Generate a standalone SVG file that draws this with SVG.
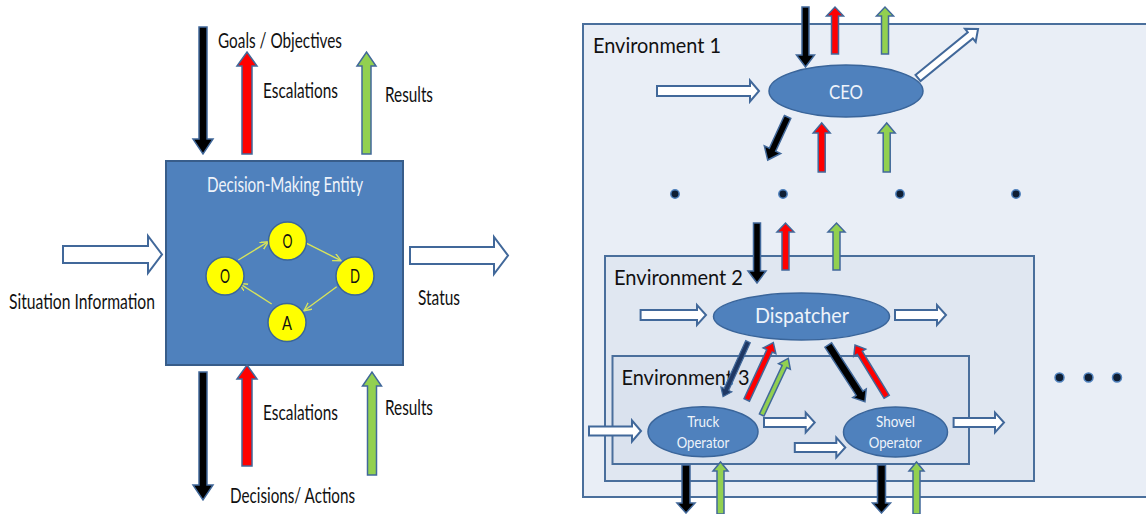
<svg xmlns="http://www.w3.org/2000/svg" width="1146" height="514" viewBox="0 0 1146 514">
<defs>
<style>
text{font-family:Lato,"Liberation Sans",sans-serif}
.lbl{font-size:21px;fill:#111}
.wl{fill:#eef3fa}
.env{stroke:#4a6f9c;stroke-width:2}
.ell{fill:#4f81bd;stroke:#3a659a;stroke-width:1.5}
.blk{fill:#000;stroke:#41689a;stroke-width:1.5}
.red{fill:#ff0000;stroke:#41689a;stroke-width:1.5}
.grn{fill:#92d050;stroke:#41689a;stroke-width:1.5}
.nav{fill:#1f3864;stroke:#41689a;stroke-width:1.2}
.wht{fill:#fff;stroke:#41689a;stroke-width:2}
.yl{stroke:#d8e45a;stroke-width:1.4;fill:none;marker-end:url(#yh)}
.dot{fill:#0f1e33;stroke:#4f81bd;stroke-width:1.5}
.cir{fill:#ffff00;stroke:#3a659a;stroke-width:1.5}
.cl{font-size:20px;fill:#111}
</style>
<marker id="yh" markerWidth="10" markerHeight="10" refX="8" refY="4" orient="auto" markerUnits="userSpaceOnUse">
<path d="M0,0 L8,4 L0,8" fill="none" stroke="#d8e45a" stroke-width="1.4"/>
</marker>
</defs>
<rect width="1146" height="514" fill="#fff"/>

<!-- Left diagram -->
<g id="dme">
<rect x="166" y="161" width="237" height="204" fill="#4f81bd" stroke="#385d8a" stroke-width="2"/>
<text class="wl" x="207" y="192" font-size="22" textLength="156" lengthAdjust="spacingAndGlyphs">Decision-Making Entity</text>
</g>

<!-- Right diagram environments -->
<g id="env1">
<rect class="env" x="583" y="24" width="570" height="473" fill="#e9eef6"/>
<text class="lbl" x="593" y="53" textLength="128" lengthAdjust="spacingAndGlyphs">Environment 1</text>
</g>
<g id="env2">
<rect class="env" x="605" y="256" width="429" height="225" fill="#e0e7f1"/>
<text class="lbl" x="614" y="285" textLength="129" lengthAdjust="spacingAndGlyphs">Environment 2</text>
</g>
<g id="env3">
<rect class="env" x="612.5" y="356" width="356.5" height="108" fill="#dae2ee"/>
<text class="lbl" x="621.5" y="385" textLength="128" lengthAdjust="spacingAndGlyphs">Environment 3</text>
</g>

<g id="dots">
<circle class="dot" cx="675" cy="194" r="4.2"/>
<circle class="dot" cx="783" cy="194" r="4.2"/>
<circle class="dot" cx="900" cy="194" r="4.2"/>
<circle class="dot" cx="1016" cy="194" r="4.2"/>
<circle class="dot" cx="1059.5" cy="377.5" r="4.5"/>
<circle class="dot" cx="1088.5" cy="377.5" r="4.5"/>
<circle class="dot" cx="1117" cy="377.5" r="4.5"/>
</g>

<g id="ceo">
<ellipse class="ell" cx="846" cy="91" rx="77" ry="26"/>
<text class="wl" x="829" y="99" font-size="20" textLength="34" lengthAdjust="spacingAndGlyphs">CEO</text>
</g>
<g id="dispatcher">
<ellipse class="ell" cx="801.5" cy="316.5" rx="88" ry="23.5"/>
<text class="wl" x="755" y="323" font-size="22" textLength="94" lengthAdjust="spacingAndGlyphs">Dispatcher</text>
</g>
<g id="truck">
<ellipse class="ell" cx="703" cy="431.7" rx="55" ry="25"/>
<text class="wl" x="687.3" y="426.7" font-size="15.5" textLength="32" lengthAdjust="spacingAndGlyphs">Truck</text>
<text class="wl" x="676.7" y="447.7" font-size="15.5" textLength="52.6" lengthAdjust="spacingAndGlyphs">Operator</text>
</g>
<g id="shovel">
<ellipse class="ell" cx="895.5" cy="432" rx="52" ry="25"/>
<text class="wl" x="876" y="426.7" font-size="15.5" textLength="39" lengthAdjust="spacingAndGlyphs">Shovel</text>
<text class="wl" x="868.7" y="447.7" font-size="15.5" textLength="53" lengthAdjust="spacingAndGlyphs">Operator</text>
</g>

<g id="connectors">
<!-- OODA loop -->
<line class="yl" x1="238.3" y1="260" x2="268.3" y2="241.7"/>
<line class="yl" x1="306.7" y1="243.3" x2="341" y2="260.7"/>
<line class="yl" x1="336.7" y1="286.7" x2="304" y2="310.7"/>
<line class="yl" x1="271.7" y1="304" x2="239.3" y2="283.3"/>

<!-- left vertical arrows -->
<polygon class="blk" transform="translate(203,27) rotate(90)" points="0,-4 112,-4 112,-10 127,0 112,10 112,4 0,4"/>
<polygon class="red" transform="translate(247,154) rotate(-90)" points="0,-5 88,-5 88,-10 102,0 88,10 88,5 0,5"/>
<polygon class="grn" transform="translate(366.5,154) rotate(-90)" points="0,-4.5 88,-4.5 88,-9.5 102,0 88,9.5 88,4.5 0,4.5"/>
<polygon class="blk" transform="translate(203,372) rotate(90)" points="0,-4 113,-4 113,-10 128,0 113,10 113,4 0,4"/>
<polygon class="red" transform="translate(247,466) rotate(-90)" points="0,-5 87,-5 87,-10 101,0 87,10 87,5 0,5"/>
<polygon class="grn" transform="translate(372,475) rotate(-90)" points="0,-4.5 89,-4.5 89,-9.5 103,0 89,9.5 89,4.5 0,4.5"/>
<polygon class="wht" transform="translate(63,254.5)" points="0,-8.5 85,-8.5 85,-18.5 99,0 85,18.5 85,8.5 0,8.5"/>
<polygon class="wht" transform="translate(410,255.5)" points="0,-8.5 84,-8.5 84,-18.5 98,0 84,18.5 84,8.5 0,8.5"/>

<!-- CEO arrows -->
<polygon class="blk" transform="translate(805.5,7) rotate(90)" points="0,-3.5 48,-3.5 48,-9 60,0 48,9 48,3.5 0,3.5"/>
<polygon class="red" transform="translate(835,54) rotate(-90)" points="0,-3.5 38,-3.5 38,-8.5 47,0 38,8.5 38,3.5 0,3.5"/>
<polygon class="grn" transform="translate(885,54) rotate(-90)" points="0,-3.5 38,-3.5 38,-8.5 47,0 38,8.5 38,3.5 0,3.5"/>
<polygon class="blk" transform="translate(787.6,117) rotate(114.8)" points="0,-3.5 36,-3.5 36,-9 47.4,0 36,9 36,3.5 0,3.5"/>
<polygon class="red" transform="translate(821.7,172) rotate(-90)" points="0,-3.5 39,-3.5 39,-8.5 49,0 39,8.5 39,3.5 0,3.5"/>
<polygon class="grn" transform="translate(886.7,172) rotate(-90)" points="0,-3.5 39,-3.5 39,-8.5 49,0 39,8.5 39,3.5 0,3.5"/>
<polygon class="wht" transform="translate(657,91)" points="0,-5 93,-5 93,-10.5 102,0 93,10.5 93,5 0,5"/>
<polygon class="wht" transform="translate(918,78) rotate(-39.2)" points="0,-4 67.5,-4 67.5,-8.5 77.5,0 67.5,8.5 67.5,4 0,4"/>

<!-- Env2 entry arrows -->
<polygon class="blk" transform="translate(757,223) rotate(90)" points="0,-3.5 48,-3.5 48,-9 60,0 48,9 48,3.5 0,3.5"/>
<polygon class="red" transform="translate(785.5,270) rotate(-90)" points="0,-3.5 38,-3.5 38,-8.5 47,0 38,8.5 38,3.5 0,3.5"/>
<polygon class="grn" transform="translate(836.5,270) rotate(-90)" points="0,-3.5 38,-3.5 38,-8.5 47,0 38,8.5 38,3.5 0,3.5"/>

<!-- Dispatcher arrows -->
<polygon class="wht" transform="translate(640.6,315)" points="0,-5 56.4,-5 56.4,-10 65.4,0 56.4,10 56.4,5 0,5"/>
<polygon class="wht" transform="translate(895,315)" points="0,-5 42,-5 42,-10 51,0 42,10 42,5 0,5"/>
<polygon class="nav" transform="translate(748,341.7) rotate(114.4)" points="0,-2.5 52.4,-2.5 52.4,-6 60.4,0 52.4,6 52.4,2.5 0,2.5"/>
<polygon class="red" transform="translate(746.7,400) rotate(-65.1)" points="0,-3 54.2,-3 54.2,-7 63.2,0 54.2,7 54.2,3 0,3"/>
<polygon class="grn" transform="translate(761.7,415) rotate(-64.9)" points="0,-2.5 53.6,-2.5 53.6,-6.5 62.6,0 53.6,6.5 53.6,2.5 0,2.5"/>
<polygon class="blk" transform="translate(828.3,345) rotate(57.1)" points="0,-4 57.5,-4 57.5,-8 67.5,0 57.5,8 57.5,4 0,4"/>
<polygon class="red" transform="translate(886.7,396.7) rotate(-121.5)" points="0,-3 51.6,-3 51.6,-7 60.6,0 51.6,7 51.6,3 0,3"/>

<!-- Operator arrows -->
<polygon class="wht" transform="translate(589,431)" points="0,-4.5 43,-4.5 43,-10.5 52,0 43,10.5 43,4.5 0,4.5"/>
<polygon class="wht" transform="translate(764,422.5)" points="0,-4.5 41.7,-4.5 41.7,-10 50.7,0 41.7,10 41.7,4.5 0,4.5"/>
<polygon class="wht" transform="translate(794.8,447.5)" points="0,-4.5 41.5,-4.5 41.5,-10 50.5,0 41.5,10 41.5,4.5 0,4.5"/>
<polygon class="wht" transform="translate(953.6,422.5)" points="0,-4.5 41.4,-4.5 41.4,-10 50.4,0 41.4,10 41.4,4.5 0,4.5"/>
<polygon class="blk" transform="translate(686,465) rotate(90)" points="0,-4 38,-4 38,-9 48,0 38,9 38,4 0,4"/>
<polygon class="grn" transform="translate(720.5,514) rotate(-90)" points="0,-3.5 43,-3.5 43,-7.5 52,0 43,7.5 43,3.5 0,3.5"/>
<polygon class="blk" transform="translate(881.5,465) rotate(90)" points="0,-4 38,-4 38,-9 48,0 38,9 38,4 0,4"/>
<polygon class="grn" transform="translate(916.5,514) rotate(-90)" points="0,-3.5 43,-3.5 43,-7.5 52,0 43,7.5 43,3.5 0,3.5"/>
</g>

<!-- OODA circles -->
<g id="observe">
<circle class="cir" cx="225" cy="276" r="19"/>
<text class="cl" x="220" y="283" textLength="10" lengthAdjust="spacingAndGlyphs">O</text>
</g>
<g id="orient">
<circle class="cir" cx="287.5" cy="241" r="19"/>
<text class="cl" x="282.5" y="248" textLength="10" lengthAdjust="spacingAndGlyphs">O</text>
</g>
<g id="decide">
<circle class="cir" cx="355" cy="276" r="19"/>
<text class="cl" x="350" y="283" textLength="10" lengthAdjust="spacingAndGlyphs">D</text>
</g>
<g id="act">
<circle class="cir" cx="287" cy="322.5" r="19"/>
<text class="cl" x="282" y="329.5" textLength="10" lengthAdjust="spacingAndGlyphs">A</text>
</g>

<!-- left labels -->
<g id="labels">
<text class="lbl" x="218" y="48" textLength="124" lengthAdjust="spacingAndGlyphs">Goals / Objectives</text>
<text class="lbl" x="263" y="98" textLength="75" lengthAdjust="spacingAndGlyphs">Escalations</text>
<text class="lbl" x="385" y="102" textLength="48" lengthAdjust="spacingAndGlyphs">Results</text>
<text class="lbl" x="9" y="309" textLength="146" lengthAdjust="spacingAndGlyphs">Situation Information</text>
<text class="lbl" x="418" y="305" textLength="42" lengthAdjust="spacingAndGlyphs">Status</text>
<text class="lbl" x="263" y="420" textLength="75" lengthAdjust="spacingAndGlyphs">Escalations</text>
<text class="lbl" x="385" y="415" textLength="48" lengthAdjust="spacingAndGlyphs">Results</text>
<text class="lbl" x="230" y="503" textLength="125" lengthAdjust="spacingAndGlyphs">Decisions/ Actions</text>
</g>
</svg>
